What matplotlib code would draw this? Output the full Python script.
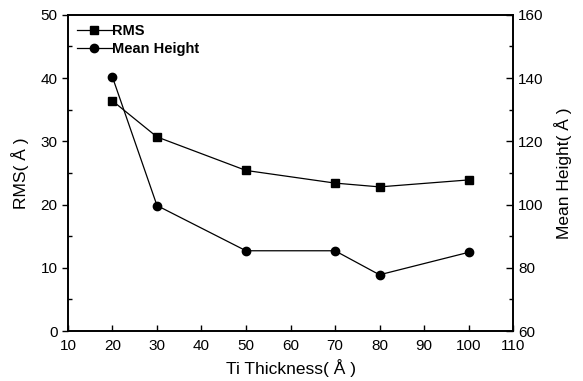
import matplotlib
matplotlib.use("Agg")
import matplotlib.pyplot as plt
from matplotlib.ticker import MultipleLocator

plt.rcParams['font.family'] = ['Liberation Sans', 'DejaVu Sans']

thickness = [20, 30, 50, 70, 80, 100]
rms = [36.4, 30.7, 25.4, 23.4, 22.8, 23.9]
mean_height = [140.3, 99.7, 85.4, 85.4, 77.8, 84.9]

fig = plt.figure(figsize=(5.83, 3.81), dpi=100)
ax = fig.add_axes([0.1166, 0.131, 0.7634, 0.830])
ax2 = ax.twinx()

l1, = ax.plot(thickness, rms, color='black', lw=0.9, marker='s', ms=6, label='RMS')
l2, = ax2.plot(thickness, mean_height, color='black', lw=0.9, marker='o', ms=6, label='Mean Height')

ax.set_xlim(10, 110)
ax.set_ylim(0, 50)
ax2.set_ylim(60, 160)
ax.xaxis.set_major_locator(MultipleLocator(10))
ax.yaxis.set_major_locator(MultipleLocator(10))
ax.yaxis.set_minor_locator(MultipleLocator(5))
ax2.yaxis.set_major_locator(MultipleLocator(20))
ax2.yaxis.set_minor_locator(MultipleLocator(10))

ax.tick_params(axis='x', direction='in', length=4, width=1, labelsize=11, pad=6)
ax.tick_params(axis='y', which='major', direction='out', length=4, width=1, labelsize=11)
ax.tick_params(axis='y', which='minor', direction='in', length=3, width=1)
ax2.tick_params(axis='y', which='major', direction='in', length=5, width=1, labelsize=11)
ax2.tick_params(axis='y', which='minor', direction='in', length=3, width=1)

for a in (ax, ax2):
    for s in a.spines.values():
        s.set_linewidth(1.2)

ax.set_xlabel('Ti Thickness( Å )', fontsize=12.5, labelpad=4)
ax.set_ylabel('RMS( Å )', fontsize=12.5, labelpad=8)
ax2.set_ylabel('Mean Height( Å )', fontsize=12.5, labelpad=8)

leg = ax.legend(handles=[l1, l2], loc='upper left', frameon=False,
                prop={'weight': 'bold', 'size': 10.5}, handlelength=2.4,
                handletextpad=0.0, borderaxespad=0.2, labelspacing=0.3)

fig.savefig('out.png', dpi=100)
